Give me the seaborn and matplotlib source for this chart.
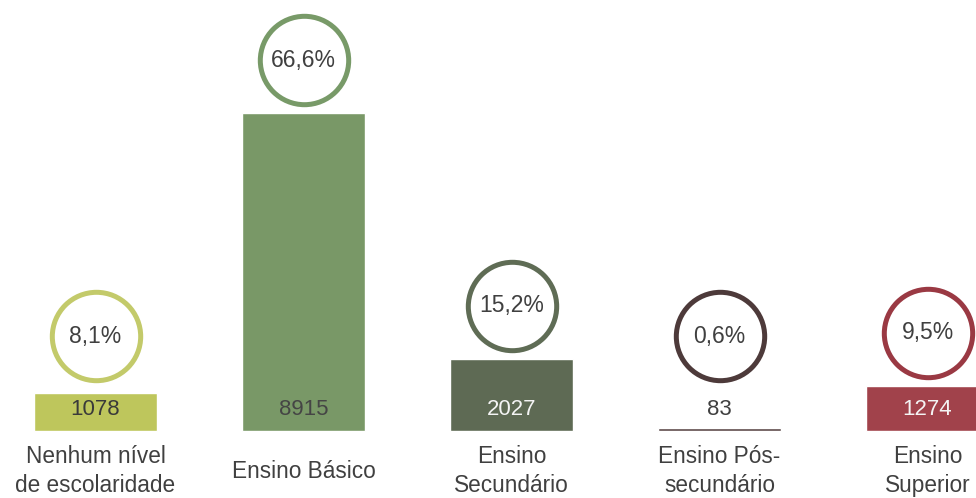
import matplotlib
matplotlib.use("Agg")
import matplotlib.pyplot as plt
import seaborn as sns
import pandas as pd

# Education level counts and shares
categories = ["Nenhum nível\nde escolaridade", "Ensino Básico", "Ensino\nSecundário",
              "Ensino Pós-\nsecundário", "Ensino\nSuperior"]
counts = [1078, 8915, 2027, 83, 1274]
shares = ["8,1%", "66,6%", "15,2%", "0,6%", "9,5%"]

bar_colors = ["#BEC65C", "#799867", "#5E6A54", "#5B4848", "#A1424B"]
ring_colors = ["#C3CA6A", "#789A68", "#5F6C55", "#4D3A3A", "#9A3943"]
count_text_colors = ["#3A3A3A", "#454545", "#F4F4F4", "#404040", "#F4F4F4"]

sns.set_theme(style="white")
plt.rcParams["font.family"] = ["Liberation Sans", "DejaVu Sans"]

W, H, DPI = 976, 498, 100
fig = plt.figure(figsize=(W / DPI, H / DPI), dpi=DPI)
ax = fig.add_axes([0, 0, 1, 1])

df = pd.DataFrame({"cat": categories, "n": counts})
sns.barplot(data=df, x="cat", y="n", hue="cat", palette=bar_colors,
            legend=False, errorbar=None, width=0.587, saturation=1, ax=ax)

# Pixel geometry: category spacing 208 px, first centre at 95.5 px, baseline 67 px from bottom
step_px = 208.0
first_px = 95.5
base_px = 67.0
units_per_px = counts[1] / 318.0
ax.set_xlim(-first_px / step_px, (W - first_px) / step_px)
ax.set_ylim(-base_px * units_per_px, (H - base_px) * units_per_px)
ax.axis("off")

label_y = 22 * units_per_px
floor_px = 95.0  # circles never sit lower than this above the baseline

for i, (n, s) in enumerate(zip(counts, shares)):
    top_px = n / units_per_px
    ax.text(i, label_y, str(n), ha="center", va="center", fontsize=16,
            color=count_text_colors[i])
    ax.text(i, -40 * units_per_px, categories[i], ha="center", va="center",
            fontsize=16.3, color="#404040", linespacing=1.3)
    cy = max(top_px + 53, floor_px) * units_per_px
    ax.scatter([i], [cy], s=4050, facecolor="white", edgecolor=ring_colors[i],
               linewidth=3.6, zorder=3, clip_on=True)
    ax.text(i, cy, s, ha="center", va="center", fontsize=16.5, color="#404040",
            zorder=4)

fig.savefig("out.png", dpi=DPI)
